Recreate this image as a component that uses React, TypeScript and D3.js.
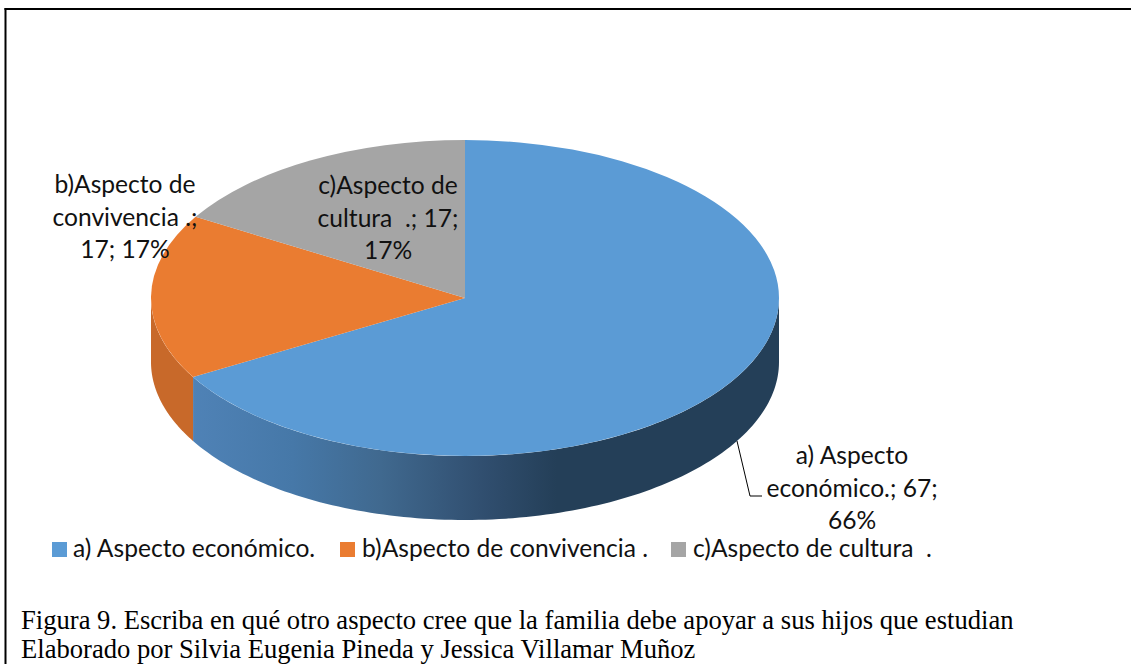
import React from "react";
import * as d3 from "d3";

const categories = ["a) Aspecto económico.", "b)Aspecto de convivencia .", "c)Aspecto de cultura  ."];
const values = [67, 17, 17];
const topColors = ["#5b9bd5", "#ea7c31", "#a5a5a5"];
const orangeSide = "#c8692a";
const blueSideStops: [string, string][] = [["0%", "#4f82b6"], ["17%", "#4678a8"], ["32%", "#40698f"], ["49%", "#314f70"], ["62%", "#243f58"], ["100%", "#243f58"]];
const labelLines = [
  { lines: ["a) Aspecto", "económico.; 67;", "66%"], x: 852, ys: [464, 497, 529] },
  { lines: ["b)Aspecto de", "convivencia .;", "17; 17%"], x: 125, ys: [193, 226, 258] },
  { lines: ["c)Aspecto de", "cultura  .; 17;", "17%"], x: 388, ys: [194, 227, 259] },
];
const legendPos = [
  { mx: 52, tx: 73 },
  { mx: 340, tx: 362 },
  { mx: 671, tx: 693 },
];
const captions = [
  "Figura 9. Escriba en qué otro aspecto cree que la familia debe apoyar a sus hijos que estudian",
  "Elaborado por Silvia Eugenia Pineda y Jessica Villamar Muñoz",
];

const W = 1131, H = 664;
const cx = 465, cy = 298, rx = 314, ry = 158, depth = 64;
// 3D perspective of the original shifts the projected wedge angles slightly
const project = (a: number) => Math.min(a * 1.005, 2 * Math.PI);

export default function App() {
  const pie = d3.pie<number>().value((d) => d).sort(null);
  const arcs = pie(values);
  const arc = d3.arc<d3.PieArcDatum<number>>()
    .innerRadius(0).outerRadius(rx)
    .startAngle((d) => project(d.startAngle))
    .endAngle((d) => project(d.endAngle));
  const px = (a: number) => cx + rx * Math.sin(a);
  const py = (a: number) => cy - ry * Math.cos(a);
  const side = (a0: number, a1: number) => {
    const angles = d3.range(0, 121).map((i) => a0 + ((a1 - a0) * i) / 120);
    const top = angles.map((a) => [px(a), py(a)] as [number, number]);
    const bot = angles.slice().reverse().map((a) => [px(a), py(a) + depth] as [number, number]);
    return d3.line()([...top, ...bot]) + "Z";
  };
  const boundary = project(arcs[0].endAngle);
  return (
    <svg width={W} height={H} style={{ position: "absolute", left: 0, top: 0, background: "#fff" }}>
      <defs>
        <linearGradient id="blueSide" gradientUnits="userSpaceOnUse" x1={px(boundary)} x2={779} y1={0} y2={0}>
          {blueSideStops.map(([o, c]) => <stop key={o} offset={o} stopColor={c} />)}
        </linearGradient>
      </defs>
      <line x1={5.5} x2={5.5} y1={8} y2={H} stroke="#000" strokeWidth={2} />
      <line x1={4.5} x2={W} y1={9} y2={9} stroke="#000" strokeWidth={2} />

      <path d={side(Math.PI / 2, boundary)} fill="url(#blueSide)" />
      <path d={side(boundary, (3 * Math.PI) / 2)} fill={orangeSide} />
      <g transform={`translate(${cx},${cy}) scale(1,${ry / rx})`}>
        {arcs.map((a, i) => <path key={i} d={arc(a) ?? ""} fill={topColors[i]} />)}
      </g>

      <polyline points="737,441 750,496 762,496" fill="none" stroke="#000" strokeWidth={1} />

      <g fontFamily="Lato, 'Open Sans', sans-serif" fontSize={24.6} fill="#111">
        {labelLines.map((l, i) =>
          l.lines.map((t, j) => (
            <text key={`${i}-${j}`} x={l.x} y={l.ys[j]} textAnchor="middle" style={{ whiteSpace: "pre" }}>{t}</text>
          ))
        )}
        {categories.map((c, i) => (
          <g key={c}>
            <rect x={legendPos[i].mx} y={542} width={15} height={15} fill={topColors[i]} />
            <text x={legendPos[i].tx} y={557} style={{ whiteSpace: "pre" }}>{c}</text>
          </g>
        ))}
      </g>
      <g fontFamily="'Liberation Serif', serif" fontSize={26.6} fill="#000">
        <text x={21} y={629}>{captions[0]}</text>
        <text x={21} y={658}>{captions[1]}</text>
      </g>
    </svg>
  );
}
